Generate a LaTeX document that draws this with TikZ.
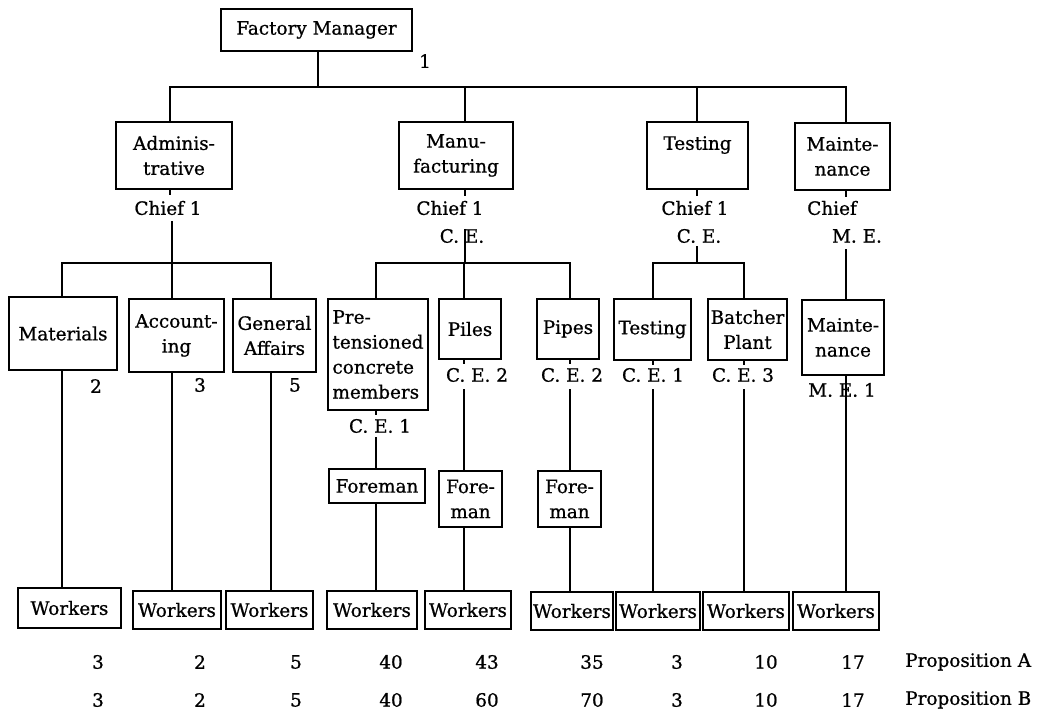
\documentclass[tikz,border=0pt]{standalone}
\usepackage{fontspec}
\setmainfont[FakeBold=0.8]{DejaVu Serif}
\newcommand{\dfs}{\fontsize{13.8}{18.75}\selectfont}
\begin{document}
\begin{tikzpicture}[x=0.75pt,y=-0.75pt,
  box/.style={draw,line width=1.4pt,inner sep=0pt,align=center,font=\dfs},
  sz/.style 2 args={minimum width=#1*0.75pt,minimum height=#2*0.75pt},
  ln/.style={line width=1.4pt},
  lab/.style={inner sep=0pt,font=\dfs},
  num/.style={inner sep=0pt,font=\dfs}]
\useasboundingbox (0,0) rectangle (1064,712);
% column coordinates
\coordinate (a1) at (170,0);
\coordinate (a2) at (465,0);
\coordinate (a3) at (697,0);
\coordinate (a4) at (846,0);
\coordinate (c1) at (62,0);
\coordinate (c2) at (172,0);
\coordinate (c3) at (271,0);
\coordinate (c4) at (376,0);
\coordinate (c5) at (464,0);
\coordinate (c6) at (570,0);
\coordinate (c7) at (653,0);
\coordinate (c8) at (744,0);
\coordinate (c9) at (846,0);
\coordinate (top) at (318,87);
\coordinate (busA) at (172,263);
\coordinate (busM) at (465,263);
\coordinate (busT) at (697,263);
% level 1
\node[box,sz={191}{42}] (fm) at (316.5,30) {Factory Manager};
\node[lab] (stray) at (425,61) {1};
% level 2
\node[box,sz={116}{67}] (adm) at (174,155.5) {Adminis-\\trative};
\node[box,sz={114}{67}] (man) at (456,155.5) {Manu-\\facturing};
\node[box,sz={101}{67}] (tst) at (697.5,155.5) {Testing\\\mbox{}};
\node[box,sz={95}{67}] (mnt) at (842.5,156.5) {Mainte-\\nance};
\node[lab] (admc) at (168,208) {Chief 1};
\node[lab] (manc) at (450,208) {Chief 1};
\node[lab] (mance) at (462,236) {C. E.};
\node[lab] (tstc) at (695,208) {Chief 1};
\node[lab] (tstce) at (699,236) {C. E.};
\node[lab] (mntc) at (832,208) {Chief};
\node[lab] (mntme) at (857,236) {M. E.};
% level 3
\node[box,sz={108}{73}] (mat) at (63,333.5) {Materials};
\node[box,sz={95}{73}] (acc) at (176.5,335.5) {Account-\\ing};
\node[box,sz={83}{73}] (gen) at (274.5,335.5) {General\\Affairs};
\node[box,sz={100}{111},align=left] (pre) at (378,354.5) {Pre-\\tensioned\\concrete\\members};
\node[box,sz={62}{60}] (pil) at (470,329) {Piles};
\node[box,sz={62}{60}] (pip) at (568,329) {Pipes};
\node[box,sz={77}{61}] (ts3) at (652.5,329.5) {Testing};
\node[box,sz={79}{61}] (bat) at (747.5,329.5) {Batcher\\Plant};
\node[box,sz={82}{75}] (mn3) at (843,337.5) {Mainte-\\nance};
\node[lab] (matn) at (96,386) {2};
\node[lab] (accn) at (200,385) {3};
\node[lab] (genn) at (295,385) {5};
\node[lab] (prece) at (380,426) {C. E. 1};
\node[lab] (pilce) at (477,375) {C. E. 2};
\node[lab] (pipce) at (572,375) {C. E. 2};
\node[lab] (ts3ce) at (653,375) {C. E. 1};
\node[lab] (batce) at (743,375) {C. E. 3};
\node[lab] (mn3me) at (842,390) {M. E. 1};
% foremen
\node[box,sz={96}{34}] (fo1) at (377,486) {Foreman};
\node[box,sz={63}{56}] (fo2) at (470.5,499) {Fore-\\man};
\node[box,sz={63}{56}] (fo3) at (569.5,499) {Fore-\\man};
% workers
\node[box,sz={103}{40}] (w1) at (69.5,608) {Workers};
\node[box,sz={88}{38}] (w2) at (177,610) {Workers};
\node[box,sz={87}{38}] (w3) at (269.5,610) {Workers};
\node[box,sz={90}{38}] (w4) at (372,610) {Workers};
\node[box,sz={86}{38}] (w5) at (468,610) {Workers};
\node[box,sz={82}{38}] (w6) at (572,611) {Workers};
\node[box,sz={84}{38}] (w7) at (658,611) {Workers};
\node[box,sz={86}{38}] (w8) at (746,611) {Workers};
\node[box,sz={86}{38}] (w9) at (836,611) {Workers};
% numbers
\node[num] (nA1) at (98,662) {3};
\node[num] (nA2) at (200,662) {2};
\node[num] (nA3) at (296,662) {5};
\node[num] (nA4) at (391,662) {40};
\node[num] (nA5) at (487,662) {43};
\node[num] (nA6) at (592,662) {35};
\node[num] (nA7) at (677,662) {3};
\node[num] (nA8) at (766,662) {10};
\node[num] (nA9) at (853,662) {17};
\node[num,anchor=west] (propA) at (905,662) {Proposition A};
\node[num] (nB1) at (98,700) {3};
\node[num] (nB2) at (200,700) {2};
\node[num] (nB3) at (296,700) {5};
\node[num] (nB4) at (391,700) {40};
\node[num] (nB5) at (487,700) {60};
\node[num] (nB6) at (592,700) {70};
\node[num] (nB7) at (677,700) {3};
\node[num] (nB8) at (766,700) {10};
\node[num] (nB9) at (853,700) {17};
\node[num,anchor=west] (propB) at (905,700) {Proposition B};
% connectors level 1-2
\draw[ln] (fm.south -| top) -- (top);
\draw[ln] (a1 |- adm.north) |- (top) -| (a4 |- mnt.north);
\draw[ln] (a2 |- man.north) -- (a2 |- top);
\draw[ln] (a3 |- tst.north) -- (a3 |- top);
% administrative
\draw[ln] (a1 |- adm.south) -- ++(0,5);
\draw[ln] (c2 |- admc.south) ++(0,6) -- (busA);
\draw[ln] (c1 |- mat.north) |- (busA) -| (c3 |- gen.north);
\draw[ln] (c2 |- acc.north) -- (busA);
% manufacturing
\draw[ln] (a2 |- man.south) -- ++(0,6);
\draw[ln] (a2 |- mance.north) -- (busM);
\draw[ln] (c4 |- pre.north) |- (busM) -| (c6 |- pip.north);
\draw[ln] (c5 |- pil.north) -- (c5 |- busM);
% testing
\draw[ln] (a3 |- tst.south) -- ++(0,6);
\draw[ln] (a3 |- tstce.south) ++(0,3) -- (busT);
\draw[ln] (c7 |- ts3.north) |- (busT) -| (c8 |- bat.north);
% maintenance
\draw[ln] (a4 |- mnt.south) -- ++(0,6);
\draw[ln] (a4 |- mntme.south) ++(0,6) -- (a4 |- mn3.north);
% level 3 down
\draw[ln] (c1 |- mat.south) -- (c1 |- w1.north);
\draw[ln] (c2 |- acc.south) -- (c2 |- w2.north);
\draw[ln] (c3 |- gen.south) -- (c3 |- w3.north);
\draw[ln] (c4 |- pre.south) -- ++(0,4);
\draw[ln] (c4 |- prece.south) ++(0,4) -- (c4 |- fo1.north);
\draw[ln] (c4 |- fo1.south) -- (c4 |- w4.north);
\draw[ln] (c5 |- pil.south) -- ++(0,4);
\draw[ln] (c5 |- pilce.south) ++(0,7) -- (c5 |- fo2.north);
\draw[ln] (c5 |- fo2.south) -- (c5 |- w5.north);
\draw[ln] (c6 |- pip.south) -- ++(0,4);
\draw[ln] (c6 |- pipce.south) ++(0,7) -- (c6 |- fo3.north);
\draw[ln] (c6 |- fo3.south) -- (c6 |- w6.north);
\draw[ln] (c7 |- ts3.south) -- ++(0,4);
\draw[ln] (c7 |- ts3ce.south) ++(0,7) -- (c7 |- w7.north);
\draw[ln] (c8 |- bat.south) -- ++(0,4);
\draw[ln] (c8 |- batce.south) ++(0,7) -- (c8 |- w8.north);
\draw[ln] (c9 |- mn3.south) -- (c9 |- w9.north);
\end{tikzpicture}
\end{document}
